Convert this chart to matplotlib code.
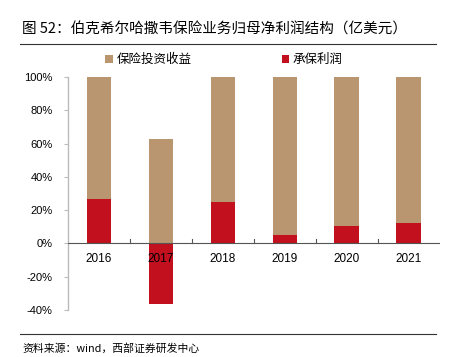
import numpy as np
import matplotlib.pyplot as plt

plt.rcParams['font.family'] = ['Liberation Sans', 'Noto Sans CJK SC', 'DejaVu Sans']

# 数据（占比，%）
years = ['2016', '2017', '2018', '2019', '2020', '2021']
underwriting = [26.5, -36.7, 24.7, 4.8, 10.8, 12.5]      # 承保利润
investment = [73.5, 63.0, 75.3, 95.2, 89.2, 87.5]        # 保险投资收益

tan = '#B99670'
red = '#C3101E'

fig = plt.figure(figsize=(4.53, 3.57), dpi=100)
ax = fig.add_axes([0.150, 0.1317, 0.821, 0.652])

x = np.arange(len(years))
w = 0.4
ax.bar(x, underwriting, w, color=red, label='承保利润', zorder=2)
# 投资收益堆叠在正的承保利润之上，负值年份从0开始
base = [u if u > 0 else 0 for u in underwriting]
ax.bar(x, investment, w, bottom=base, color=tan, label='保险投资收益', zorder=2)

ax.set_xlim(-0.5, len(years) - 0.5)
ax.set_ylim(-40, 100)
ax.set_yticks(np.arange(-40, 101, 20))
ax.set_yticklabels([f'{v}%' for v in range(-40, 101, 20)], fontsize=8)

for s in ['top', 'right', 'bottom']:
    ax.spines[s].set_visible(False)
ax.spines['left'].set_color('#BBBBBB')
ax.spines['left'].set_linewidth(1.0)
ax.tick_params(axis='y', length=3, color='#BBBBBB', pad=8)

# 零轴及类别分隔刻度
ax.axhline(0, color='#555555', lw=0.8, zorder=3)
ax.set_xticks([])
for b in np.arange(0.5, len(years) - 0.5, 1):
    ax.plot([b, b], [0, 2.5], color='#555555', lw=0.8, zorder=3)
for xi, lab in zip(x, years):
    ax.text(xi, -5.5, lab, ha='center', va='top', fontsize=8.5, zorder=4)

# 图例
h, l = ax.get_legend_handles_labels()
fig.legend(h[::-1], l[::-1], loc='center', bbox_to_anchor=(0.495, 0.832), ncol=2,
           frameon=False, fontsize=9, handlelength=0.6, handleheight=0.6,
           handletextpad=0.3, columnspacing=7.2)

# 标题与来源
fig.text(0.049, 0.916, '图 52：伯克希尔哈撒韦保险业务归母净利润结构（亿美元）',
         fontsize=10.5, va='center', ha='left',
         family=['Noto Sans CJK SC', 'DejaVu Sans'])
fig.add_artist(plt.Line2D([0.044, 0.963], [0.877, 0.877], color='#333333', lw=0.8))
fig.add_artist(plt.Line2D([0.044, 0.963], [0.064, 0.064], color='#333333', lw=0.8))
fig.text(0.049, 0.025, '资料来源：wind，西部证券研发中心', fontsize=7.8,
         va='center', ha='left', family=['Noto Sans CJK SC', 'DejaVu Sans'])

fig.savefig('out.png', dpi=100)
